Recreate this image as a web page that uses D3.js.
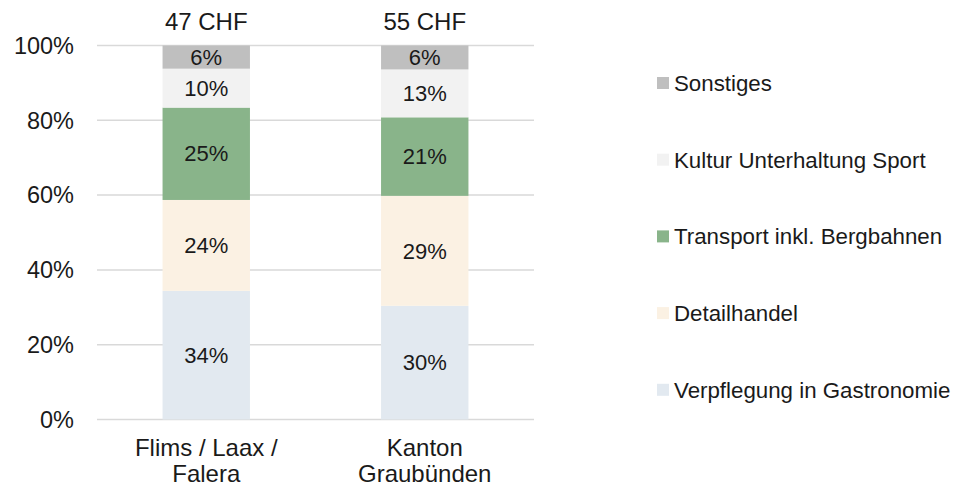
<!DOCTYPE html>
<html>
<head>
<meta charset="utf-8">
<script src="https://cdn.jsdelivr.net/npm/d3@7"></script>
<style>
	body { margin: 0; background: #fff; }
	text { font-family: "Liberation Sans", Arial, sans-serif; fill: #1a1a1a; }
</style>
</head>
<body>
<div id="chart"></div>
<script>
// data
var regions = ["Flims / Laax / Falera", "Kanton Graubünden"];
var regionLines = [["Flims / Laax /", "Falera"], ["Kanton", "Graubünden"]];
var totals = ["47 CHF", "55 CHF"];
var categories = ["Verpflegung in Gastronomie", "Detailhandel", "Transport inkl. Bergbahnen", "Kultur Unterhaltung Sport", "Sonstiges"];
var verpflegung = [34.4, 30.4];
var detailhandel = [24.3, 29.4];
var transport = [24.7, 21.0];
var kultur = [10.4, 12.8];
var sonstiges = [6.2, 6.4];
var yTicks = [0, 20, 40, 60, 80, 100];

var colors = ["#e2e9f0", "#fbf1e3", "#89b48a", "#f2f2f2", "#bfbfbf"];

function init(){
	var w = 953;
	var h = 487;

	var dataset = regions.map(function(r, i){
		var row = { region: r };
		row[categories[0]] = verpflegung[i];
		row[categories[1]] = detailhandel[i];
		row[categories[2]] = transport[i];
		row[categories[3]] = kultur[i];
		row[categories[4]] = sonstiges[i];
		return row;
	});

	var series = d3.stack().keys(categories)(dataset);

	var xScale = d3.scaleBand()
					.domain(regions)
					.range([97, 534])
					.paddingInner(0.6)
					.paddingOuter(0.3);

	var yScale = d3.scaleLinear()
					.domain([0, 100])
					.range([419.5, 45.5]);

	var color = d3.scaleOrdinal().domain(categories).range(colors);

	var svg = d3.select("#chart")
				.append("svg")
				.attr("width", w)
				.attr("height", h);

	//gridlines
	svg.append("g")
		.selectAll("line")
		.data(yTicks)
		.enter()
		.append("line")
		.attr("x1", 97)
		.attr("x2", 534)
		.attr("y1", function(d){ return yScale(d); })
		.attr("y2", function(d){ return yScale(d); })
		.attr("stroke", "#d9d9d9")
		.attr("stroke-width", 1.5);

	//y tick labels
	svg.append("g")
		.selectAll("text")
		.data(yTicks)
		.enter()
		.append("text")
		.attr("x", 74)
		.attr("y", function(d){ return yScale(d); })
		.attr("dy", "0.35em")
		.attr("text-anchor", "end")
		.style("font-size", "23.5px")
		.text(function(d){ return d + "%"; });

	//bars
	var groups = svg.selectAll("g.series")
					.data(series)
					.enter()
					.append("g")
					.attr("class", "series")
					.style("fill", function(d){ return color(d.key); });

	groups.selectAll("rect")
		.data(function(d){ return d; })
		.enter()
		.append("rect")
		.attr("x", function(d){ return xScale(d.data.region); })
		.attr("y", function(d){ return yScale(d[1]); })
		.attr("height", function(d){ return yScale(d[0]) - yScale(d[1]); })
		.attr("width", xScale.bandwidth());

	groups.selectAll("text")
		.data(function(d){ return d; })
		.enter()
		.append("text")
		.attr("x", function(d){ return xScale(d.data.region) + xScale.bandwidth() / 2; })
		.attr("y", function(d){ return (yScale(d[0]) + yScale(d[1])) / 2; })
		.attr("dy", "0.35em")
		.attr("text-anchor", "middle")
		.style("font-size", "22px")
		.text(function(d){ return Math.round(d[1] - d[0]) + "%"; });

	//totals on top
	svg.append("g")
		.selectAll("text")
		.data(regions)
		.enter()
		.append("text")
		.attr("x", function(d){ return xScale(d) + xScale.bandwidth() / 2; })
		.attr("y", 30)
		.attr("text-anchor", "middle")
		.style("font-size", "24px")
		.text(function(d, i){ return totals[i]; });

	//category labels
	var xl = svg.append("g")
		.selectAll("text")
		.data(regions)
		.enter()
		.append("text")
		.attr("x", function(d){ return xScale(d) + xScale.bandwidth() / 2; })
		.attr("y", 456)
		.attr("text-anchor", "middle")
		.style("font-size", "24px");
	xl.selectAll("tspan")
		.data(function(d, i){ return regionLines[i]; })
		.enter()
		.append("tspan")
		.attr("x", function(){ return d3.select(this.parentNode).attr("x"); })
		.attr("dy", function(d, i){ return i === 0 ? 0 : 25.5; })
		.text(function(d){ return d; });

	//legend
	var legendOrder = categories.slice().reverse();
	var legend = svg.append("g")
		.selectAll("g")
		.data(legendOrder)
		.enter()
		.append("g")
		.attr("transform", function(d, i){ return "translate(657," + (83 + i * 76.7) + ")"; });

	legend.append("rect")
		.attr("x", 0)
		.attr("y", -6)
		.attr("width", 12)
		.attr("height", 12)
		.style("fill", function(d){ return color(d); });

	legend.append("text")
		.attr("x", 17)
		.attr("y", 0)
		.attr("dy", "0.35em")
		.style("font-size", "22.3px")
		.text(function(d){ return d; });
}

window.onload = init;
</script>
</body>
</html>
